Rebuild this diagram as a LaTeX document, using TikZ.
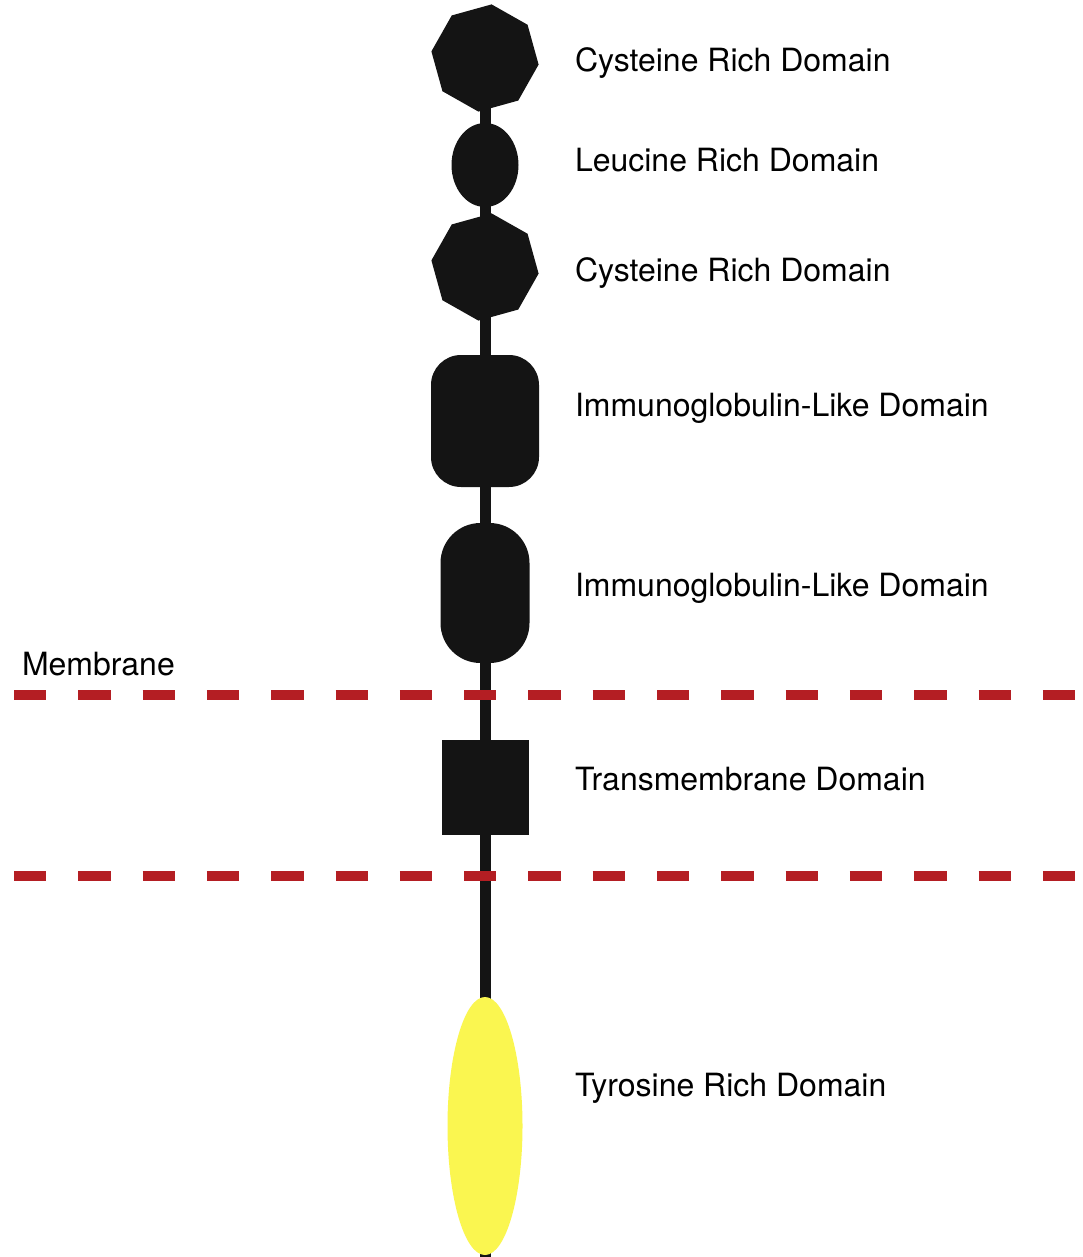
\documentclass[tikz,border=0pt]{standalone}
\usepackage{fontspec}
\setmainfont{TeX Gyre Heros}
\usetikzlibrary{shapes.geometric,backgrounds}
\definecolor{domfill}{RGB}{20,20,20}
\definecolor{memred}{RGB}{180,30,35}
\definecolor{tyrfill}{RGB}{250,246,80}
\begin{document}
\begin{tikzpicture}[x=1pt,y=-1pt,
  dom/.style={fill=domfill,draw=none,inner sep=0pt,outer sep=0pt},
  octo/.style={dom,regular polygon,regular polygon sides=8,minimum size=108pt,shape border rotate=15.5},
  lbl/.style={anchor=base west,inner sep=0pt,outer sep=0pt,font=\fontsize{32}{38}\selectfont},
  stemline/.style={draw=domfill,line width=11pt},
  membrane/.style={draw=memred,line width=10pt,dash pattern=on 32.3pt off 32pt}]
\useasboundingbox (0,0) rectangle (1083,1257);
% domains
\node[octo] (oct1) at (485,58) {};
\node[dom,ellipse,minimum width=67pt,minimum height=84pt] (leu) at (485,165) {};
\node[octo] (oct2) at (485,267) {};
\node[dom,rectangle,rounded corners=30pt,minimum width=108pt,minimum height=132pt] (ig1) at (485,421) {};
\node[dom,rectangle,rounded corners=40pt,minimum width=89pt,minimum height=140pt] (ig2) at (485,593) {};
\node[dom,rectangle,minimum width=87pt,minimum height=95pt] (tm) at (485,787.5) {};
\node[fill=tyrfill,draw=none,ellipse,inner sep=0pt,minimum width=75pt,minimum height=258pt] (tyr) at (485,1126) {};
\coordinate (stemend) at (485,1257);
% stem
\begin{pgfonlayer}{background}
\fill[white] (0,0) rectangle (1083,1257);
\draw[stemline] (oct1.center) -- (leu.center) -- (oct2.center) -- (ig1.center) -- (ig2.center) -- (tm.center) -- (stemend);
\end{pgfonlayer}
% membrane lines
\coordinate (m1l) at (14,695);
\coordinate (m1r) at (1076,695);
\coordinate (m2l) at (14,876);
\coordinate (m2r) at (1076,876);
\draw[membrane] (m1l) -- (m1r);
\draw[membrane] (m2l) -- (m2r);
% labels
\node[lbl] (lmem) at (22,675) {Membrane};
\node[lbl] (l1) at (575,71.7) {Cysteine Rich Domain};
\node[lbl] (l2) at (575,171.7) {Leucine Rich Domain};
\node[lbl] (l3) at (575,281.7) {Cysteine Rich Domain};
\node[lbl] (l4) at (575,416.7) {Immunoglobulin-Like Domain};
\node[lbl] (l5) at (575,596.7) {Immunoglobulin-Like Domain};
\node[lbl] (l6) at (575,790) {Transmembrane Domain};
\node[lbl] (l7) at (575,1096.7) {Tyrosine Rich Domain};
\end{tikzpicture}
\end{document}
